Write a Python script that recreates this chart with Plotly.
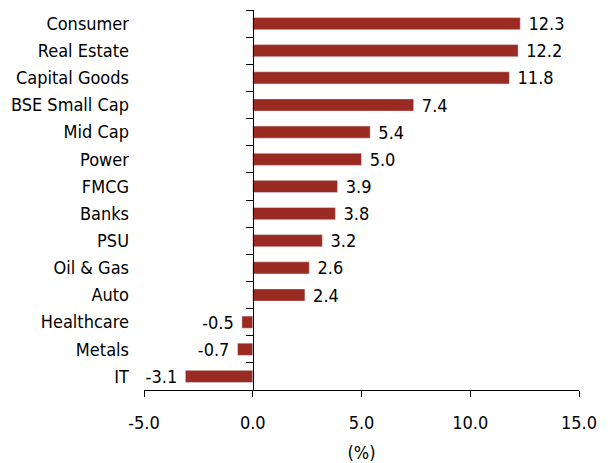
import plotly.graph_objects as go

categories = ["Consumer", "Real Estate", "Capital Goods", "BSE Small Cap", "Mid Cap",
              "Power", "FMCG", "Banks", "PSU", "Oil & Gas", "Auto", "Healthcare",
              "Metals", "IT"]
values = [12.3, 12.2, 11.8, 7.4, 5.4, 5.0, 3.9, 3.8, 3.2, 2.6, 2.4, -0.5, -0.7, -3.1]
x_ticks = [-5, 0, 5, 10, 15]
x_title = "(%)"

FONT = "DejaVu Sans Condensed, Liberation Sans Narrow, sans-serif"
FS = 18
BAR = "#992B22"

order = categories[::-1]
labels = [(" " + f"{v:.1f}") if v >= 0 else (f"{v:.1f}" + " ") for v in values]

fig = go.Figure()
fig.add_trace(go.Bar(
    y=categories, x=values, orientation="h",
    marker=dict(color=BAR, line=dict(width=0)),
    width=0.45,
    text=labels,
    textposition="outside",
    constraintext="none",
    textfont=dict(family=FONT, size=FS, color="black"),
    cliponaxis=False,
    hoverinfo="skip",
))
# invisible trace to carry the category axis drawn at x = 0
fig.add_trace(go.Bar(
    y=categories, x=values, orientation="h", yaxis="y2",
    marker=dict(color="rgba(0,0,0,0)"), width=0.45,
    hoverinfo="skip", showlegend=False,
))

fig.update_layout(
    width=612, height=463,
    margin=dict(l=144, r=33, t=10, b=73),
    paper_bgcolor="white", plot_bgcolor="white",
    showlegend=False,
    font=dict(family=FONT, size=FS, color="black"),
    xaxis=dict(
        range=[-5, 15], tickvals=x_ticks,
        ticktext=[f"{t:.1f}" for t in x_ticks],
        showgrid=False, zeroline=False,
        showline=True, linecolor="black", linewidth=1,
        ticks="outside", ticklen=6, tickcolor="black",
        ticklabelstandoff=10,
        title=dict(text=x_title, font=dict(size=FS), standoff=14),
        automargin=False, fixedrange=True,
    ),
    yaxis=dict(
        type="category", categoryorder="array", categoryarray=order,
        range=[-0.5, len(categories) - 0.5],
        showgrid=False, zeroline=False, showline=False,
        ticks="", ticklabelstandoff=14,
        automargin=False, fixedrange=True,
    ),
    yaxis2=dict(
        type="category", categoryorder="array", categoryarray=order,
        range=[-0.5, len(categories) - 0.5],
        overlaying="y", anchor="free", position=0.25,
        showgrid=False, zeroline=False,
        showline=True, linecolor="black", linewidth=1,
        ticks="outside", tickson="boundaries", ticklen=7, tickcolor="black",
        showticklabels=False, automargin=False, fixedrange=True,
    ),
)

fig.write_html("out.html")
